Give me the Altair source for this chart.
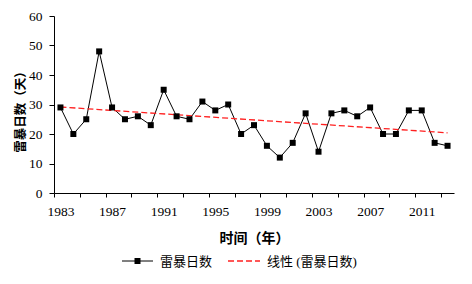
import altair as alt
import pandas as pd

years = list(range(1983, 2014))
days = [29, 20, 25, 48, 29, 25, 26, 23, 35, 26, 25, 31, 28, 30, 20, 23, 16, 12, 17, 27,
        14, 27, 28, 26, 29, 20, 20, 28, 28, 17, 16]
y_ticks = [0, 10, 20, 30, 40, 50, 60]
x_tick_values = [1982.5 + 2 * k for k in range(16)]
legend_labels = ["雷暴日数", "线性 (雷暴日数)"]

df = pd.DataFrame({"year": years, "days": days})

W, H = 400, 177
SERIF = "'Liberation Serif', 'Times New Roman', serif"
CJK = "'Noto Sans CJK SC', 'Liberation Serif', sans-serif"
MIX = "'Liberation Serif', 'Noto Sans CJK SC', serif"

x_enc = alt.X(
    "year:Q",
    scale=alt.Scale(domain=[1982.5, 2013.5], nice=False, zero=False),
    axis=alt.Axis(
        values=x_tick_values,
        labelExpr="(datum.value - 1982.5) % 4 == 0 ? toString(datum.value + 0.5) : ''",
        labelOffset=W / 31 / 2,
        labelFlush=False,
        labelOverlap=False,
        grid=False,
        tickSize=4,
        tickColor="black",
        domainColor="black",
        labelPadding=7,
        labelFont=SERIF,
        labelFontSize=13.5,
        labelColor="black",
        title="时间（年）",
        titleFont=CJK,
        titleFontSize=14,
        titleFontWeight="bold",
        titleColor="black",
        titleY=45,
        titleBaseline="middle",
    ),
)
y_enc = alt.Y(
    "days:Q",
    scale=alt.Scale(domain=[0, 60], nice=False, zero=True),
    axis=alt.Axis(
        values=y_ticks,
        tickCount=7,
        grid=False,
        tickSize=5,
        tickColor="black",
        domainColor="black",
        labelPadding=7,
        labelOverlap=False,
        labelFlush=False,
        labelFont=SERIF,
        labelFontSize=13.5,
        labelColor="black",
        title="雷暴日数（天）",
        titleFont=CJK,
        titleFontSize=12.5,
        titleFontWeight="bold",
        titleColor="black",
        titleX=-34,
        titleY=H / 2 + 4,
        titleAngle=-90,
        titleAlign="center",
        titleBaseline="middle",
    ),
)

base = alt.Chart(df)
line = base.mark_line(color="black", strokeWidth=1).encode(x=x_enc, y=y_enc)
pts = base.mark_square(color="black", size=36, opacity=1).encode(x=x_enc, y=y_enc)
trend = base.transform_regression("year", "days").mark_line(
    color="#ff2020", strokeWidth=1.3, strokeDash=[6, 3]
).encode(x=x_enc, y=y_enc)

leg_y = 245
lg1_line = alt.Chart(pd.DataFrame({"t": [legend_labels[0]]})).mark_rule(
    color="black", strokeWidth=1
).encode(x=alt.value(68), x2=alt.value(99), y=alt.value(leg_y))
lg1_pt = alt.Chart(pd.DataFrame({"t": [legend_labels[0]]})).mark_square(
    color="black", size=36, opacity=1
).encode(x=alt.value(83.5), y=alt.value(leg_y))
lg1_txt = alt.Chart(pd.DataFrame({"t": [legend_labels[0]]})).mark_text(
    align="left", baseline="middle", font=CJK, fontSize=13, color="black"
).encode(x=alt.value(106), y=alt.value(leg_y + 1), text="t:N")
lg2_line = alt.Chart(pd.DataFrame({"t": [legend_labels[1]]})).mark_rule(
    color="#ff2020", strokeWidth=1.3, strokeDash=[6, 3]
).encode(x=alt.value(174), x2=alt.value(206), y=alt.value(leg_y))
lg2_txt = alt.Chart(pd.DataFrame({"t": [legend_labels[1]]})).mark_text(
    align="left", baseline="middle", font=MIX, fontSize=13, color="black"
).encode(x=alt.value(213), y=alt.value(leg_y + 1), text="t:N")

chart = alt.layer(line, trend, pts, lg1_line, lg1_pt, lg1_txt, lg2_line, lg2_txt).properties(
    width=W,
    height=H,
    autosize=alt.AutoSizeParams(type="none"),
    padding={"left": 46, "top": 8, "right": 10, "bottom": 83},
    background="white",
).configure_view(stroke=None)

chart.save("out.html", embed_options={"renderer": "svg", "actions": False})
